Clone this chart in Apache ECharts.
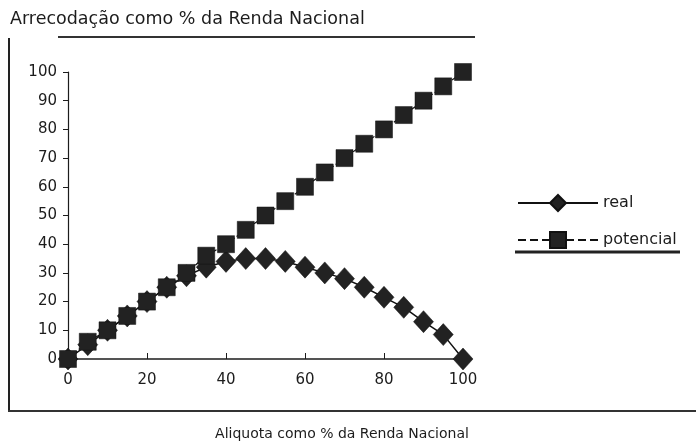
<!DOCTYPE html>
<html>
<head>
<meta charset="utf-8">
<script src="https://cdn.jsdelivr.net/npm/echarts@6/dist/echarts.min.js"></script>
<style>
html,body{margin:0;padding:0;background:#fff;}
#c{width:696px;height:441px;}
</style>
</head>
<body>
<div id="c"></div>
<script>
const aliquota = [0,5,10,15,20,25,30,35,40,45,50,55,60,65,70,75,80,85,90,95,100];
const real = [0,5,10,15,20,25,29,32,34,35,35,34,32,30,28,25,21.5,18,13,8.5,0];
const potencial = [0,6,10,15,20,25,30,36,40,45,50,55,60,65,70,75,80,85,90,95,100];
const xTicks = [0,20,40,60,80,100];
const yTicks = [0,10,20,30,40,50,60,70,80,90,100];
const titleText = 'Arrecodação como % da Renda Nacional';
const xTitle = 'Aliquota como % da Renda Nacional';
const seriesNames = ['real','potencial'];

const FONT = 'DejaVu Sans';
const INK = '#1c1c1c';
const chart = echarts.init(document.getElementById('c'), null, {renderer:'canvas'});
chart.setOption({
  backgroundColor:'#fff',
  animation:false,
  grid:{left:68,right:233,top:72,bottom:82,containLabel:false},
  xAxis:{type:'value',min:xTicks[0],max:xTicks[xTicks.length-1],interval:20,
    axisLine:{lineStyle:{color:INK,width:1.5}},
    axisTick:{inside:true,length:6,lineStyle:{color:INK}},
    splitLine:{show:false},
    axisLabel:{margin:14,fontFamily:FONT,fontSize:15,color:INK}},
  yAxis:{type:'value',min:yTicks[0],max:yTicks[yTicks.length-1],interval:10,
    axisLine:{show:true,lineStyle:{color:INK,width:1.2}},
    axisTick:{show:true,length:5,lineStyle:{color:INK}},
    splitLine:{show:false},
    axisLabel:{margin:11,fontFamily:FONT,fontSize:15,color:INK}},
  legend:{orient:'vertical',left:512,top:189,itemGap:19,itemWidth:80,itemHeight:20,
    textStyle:{fontFamily:FONT,fontSize:16,color:INK,padding:[0,0,0,0]},
    data:seriesNames},
  series:[
    {name:seriesNames[0],type:'line',data:aliquota.map((x,i)=>[x,real[i]]),
      symbol:'diamond',symbolSize:[20,22],
      itemStyle:{color:'#222',borderColor:'#111',borderWidth:0.5},
      lineStyle:{color:'#111',width:1.5},z:2},
    {name:seriesNames[1],type:'line',data:aliquota.map((x,i)=>[x,potencial[i]]),
      symbol:'rect',symbolSize:17,
      itemStyle:{color:'#222',borderColor:'#111',borderWidth:0.5},
      lineStyle:{color:'#111',width:1.2,type:'dashed'},z:3}
  ],
  graphic:[
    {type:'text',left:10,top:10,style:{text:titleText,fontFamily:FONT,fontSize:17.5,fill:INK}},
    {type:'line',shape:{x1:58,y1:37,x2:475,y2:37},style:{stroke:'#333',lineWidth:2}},
    {type:'line',shape:{x1:9,y1:38,x2:9,y2:411},style:{stroke:'#222',lineWidth:2}},
    {type:'line',shape:{x1:8,y1:411,x2:696,y2:411},style:{stroke:'#333',lineWidth:2}},
    {type:'line',shape:{x1:515,y1:252,x2:680,y2:252},style:{stroke:'#222',lineWidth:3}},
    {type:'text',x:342,y:434,style:{text:xTitle,fontFamily:FONT,fontSize:14,fill:INK,align:'center',verticalAlign:'middle'}}
  ]
});
</script>
</body>
</html>
